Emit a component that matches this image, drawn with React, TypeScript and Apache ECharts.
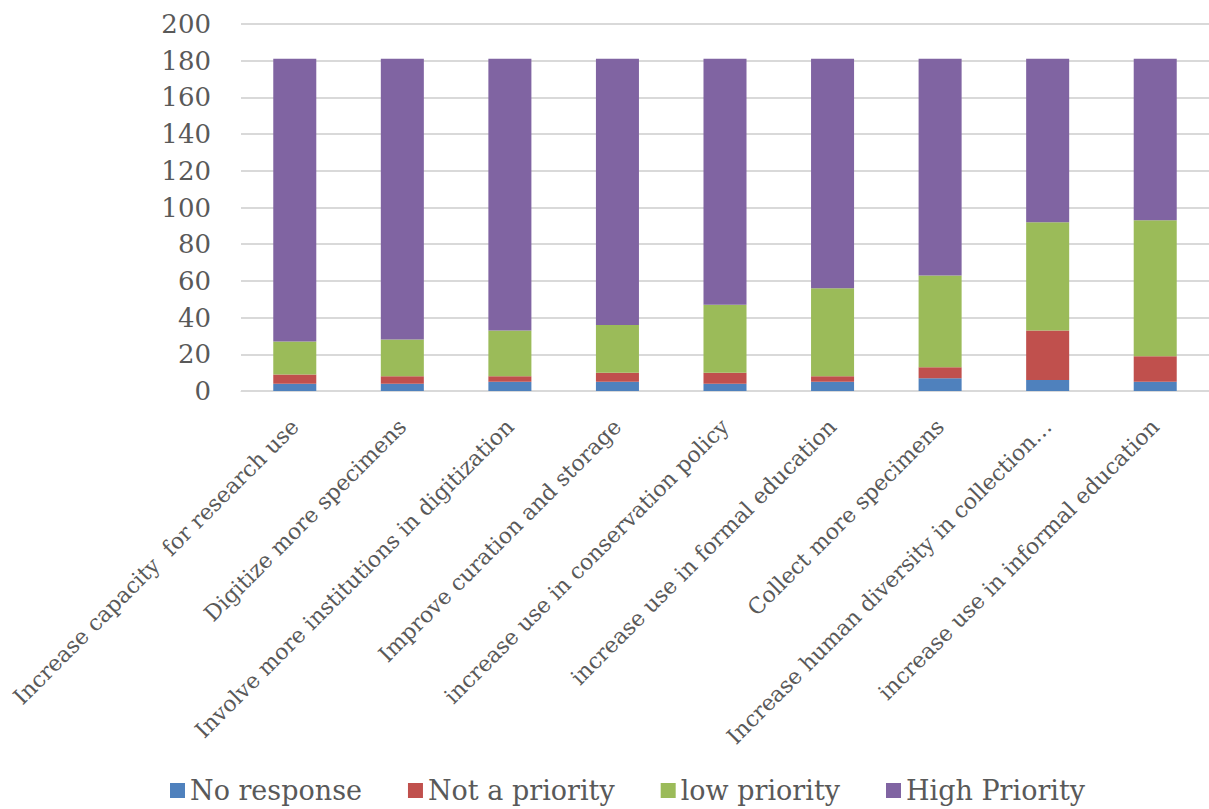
import React, { useEffect, useRef } from "react";
import * as echarts from "echarts";

const categories = [
  "Increase capacity  for research use",
  "Digitize more specimens",
  "Involve more institutions in digitization",
  "Improve curation and storage",
  "increase use in conservation policy",
  "increase use in formal education",
  "Collect more specimens",
  "Increase human diversity in collection…",
  "increase use in informal education",
];
const noResponse = [4, 4, 5, 5, 4, 5, 7, 6, 5];
const notPriority = [5, 4, 3, 5, 6, 3, 6, 27, 14];
const lowPriority = [18, 20, 25, 26, 37, 48, 50, 59, 74];
const highPriority = [154, 153, 148, 145, 134, 125, 118, 89, 88];
const yTicks = { min: 0, max: 200, interval: 20 };

const FONT = "DejaVu Serif";
const TEXT = "#595959";

export default function App() {
  const ref = useRef<HTMLDivElement>(null);
  useEffect(() => {
    const chart = echarts.init(ref.current!, null, { renderer: "svg" });
    const mk = (name: string, data: number[], color: string) => ({
      name,
      type: "bar",
      stack: "total",
      data,
      barWidth: "40%",
      itemStyle: { color },
    });
    chart.setOption({
      animation: false,
      grid: { left: 241, right: 0, top: 24, bottom: 418, containLabel: false },
      legend: {
        bottom: 0,
        left: 165,
        icon: "rect",
        itemWidth: 15,
        itemHeight: 15,
        itemGap: 46,
        textStyle: { fontFamily: FONT, fontSize: 27, color: TEXT },
        data: ["No response", "Not a priority", "low priority", "High Priority"],
      },
      xAxis: {
        type: "category",
        data: categories,
        axisTick: { show: false },
        axisLine: { lineStyle: { color: "#d9d9d9", width: 1 } },
        axisLabel: {
          rotate: 45,
          interval: 0,
          margin: 32,
          fontFamily: FONT,
          fontSize: 22,
          color: TEXT,
        },
      },
      yAxis: {
        type: "value",
        min: yTicks.min,
        max: yTicks.max,
        interval: yTicks.interval,
        axisLine: { show: false },
        axisTick: { show: false },
        splitLine: { lineStyle: { color: "#d9d9d9", width: 2 } },
        axisLabel: { fontFamily: FONT, fontSize: 26, color: TEXT, margin: 30 },
      },
      series: [
        mk("No response", noResponse, "#4F81BD"),
        mk("Not a priority", notPriority, "#C0504D"),
        mk("low priority", lowPriority, "#9BBB59"),
        mk("High Priority", highPriority, "#8064A2"),
      ],
    });
    return () => chart.dispose();
  }, []);
  return (
    <div
      ref={ref}
      style={{ position: "absolute", left: 0, top: 0, width: 1209, height: 809, background: "#fff" }}
    />
  );
}
